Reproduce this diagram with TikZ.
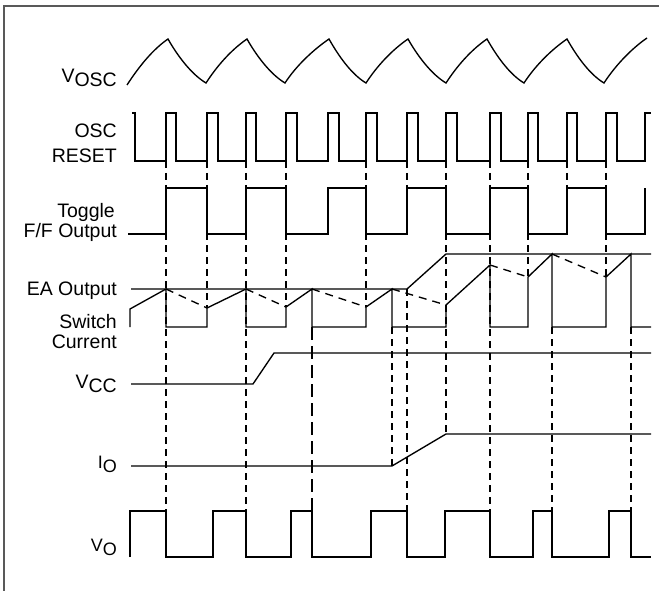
\documentclass[tikz,border=0pt]{standalone}
\usepackage{fontspec}
\setmainfont{Liberation Sans}
\usepackage{tikz}
\usetikzlibrary{calc}
\usepackage{xcolor}
\definecolor{framegray}{rgb}{0.35,0.35,0.35}

\tikzset{
  wave/.style={line width=1.35pt},
  guide/.style={line width=1.35pt,dash pattern=on 7pt off 5pt},
  guidelong/.style={line width=1.35pt,dash pattern=on 13pt off 6pt},
  sig/.style={anchor=base east,inner sep=0pt,font=\fontsize{19.5}{21}\selectfont},
  sigsmall/.style={sig,font=\fontsize{18}{20}\selectfont}
}
\newcommand{\lowsub}[1]{\raisebox{-4pt}{#1}}

\begin{document}
\begin{tikzpicture}[x=1pt,y=-1pt]
        \useasboundingbox (0,0) rectangle (659,591);
        \draw[framegray,line width=1.3pt] (4,591) -- (4,6) -- (659,6);

        % signal names
        \node[sig] (vosc) at (117,83) {V\lowsub{OSC}};
        \node[sig] (osc) at (117,138) {OSC};
        \node[sig] (reset) at (117,163) {RESET};
        \node[sig] (toggle) at (115,217) {Toggle};
        \node[sig] (ffout) at (117,237) {F/F Output};
        \node[sig] (eaout) at (117,295) {EA Output};
        \node[sig] (switch) at (117,328) {Switch};
        \node[sig] (current) at (117,348) {Current};
        \node[sig] (vcc) at (117,388) {V\lowsub{CC}};
        \node[sigsmall] (io) at (117,468) {I\lowsub{O}};
        \node[sigsmall] (vo) at (117,551) {V\lowsub{O}};

        % timing guides
        \foreach \x/\ya/\yb in {166/161/511,207/161/308,246/161/511,286/161/307,
            366/161/307,392/327/466,407/161/188,407/289/511,446/161/434,
            490/161/511,528/161/277,552/327/511,567/161/188,606/161/277,631/327/511}
          \draw[guide] (\x,\ya) -- (\x,\yb);
        \draw[guidelong] (312,327) -- (312,511);

        % oscillator ramp
        \draw[wave] (127,85)
          foreach \pk/\tr in {168/206,247/285,329/366,408/446,487/524,567/604}
          { .. controls +(11,-17) and +(-16,11) .. (\pk,39)
            .. controls +(9,16) and +(-15,-9) .. (\tr,83) }
          .. controls +(11,-17) and +(-16,11) .. (647,38);

        % reset pulses
        \draw[wave] (132,113) -- (135,113) -- (135,161)
          foreach \a/\b in {166/176,207/218,246/256,286/297,328/339,366/377,
                            407/418,446/457,490/501,528/538,567/577,606/617}
          { -- (\a,161) -- (\a,113) -- (\b,113) -- (\b,161) }
          -- (645,161) -- (645,113) -- (651,113);

        % flip-flop
        \draw[wave] (128,234)
          foreach \a/\b in {166/207,246/286,328/366,407/446,490/528,567/606}
          { -- (\a,234) -- (\a,188) -- (\b,188) -- (\b,234) }
          -- (645,234) -- (645,188);

        % error amplifier and switch current
        \draw[wave] (131,289) -- (407,289) -- (446,254) -- (651,254);
        \draw[wave] (130,327) -- (130,309)
          foreach \xo/\yo/\xr/\yr in {166/289/207/308,246/289/286/307,312/289/366/307,
                                     392/289/446/305,490/265/528/277,552/254/606/277}
          { -- (\xo,\yo) -- (\xo,327) -- (\xr,327) -- (\xr,\yr) }
          -- (631,254) -- (631,327) -- (651,327);
        \foreach \xo/\yo/\xr/\yr in {166/289/207/308,246/289/286/307,312/289/366/307,
                                    392/289/446/305,490/265/528/277,552/254/606/277}
          \draw[guide,dash pattern=on 8pt off 6pt] (\xo,\yo) -- (\xr,\yr);

        % supply, load, output
        \draw[wave] (131,384) -- (253,384) -- (274,353) -- (651,353);
        \draw[wave] (131,466) -- (392,466) -- (446,434) -- (651,434);
        \draw[wave] (130,557) -- (130,511)
          foreach \a/\b in {166/213,246/291,312/371,407/445,490/533,552/609}
          { -- (\a,511) -- (\a,557) -- (\b,557) -- (\b,511) }
          -- (631,511) -- (631,557) -- (651,557);
\end{tikzpicture}
\end{document}
